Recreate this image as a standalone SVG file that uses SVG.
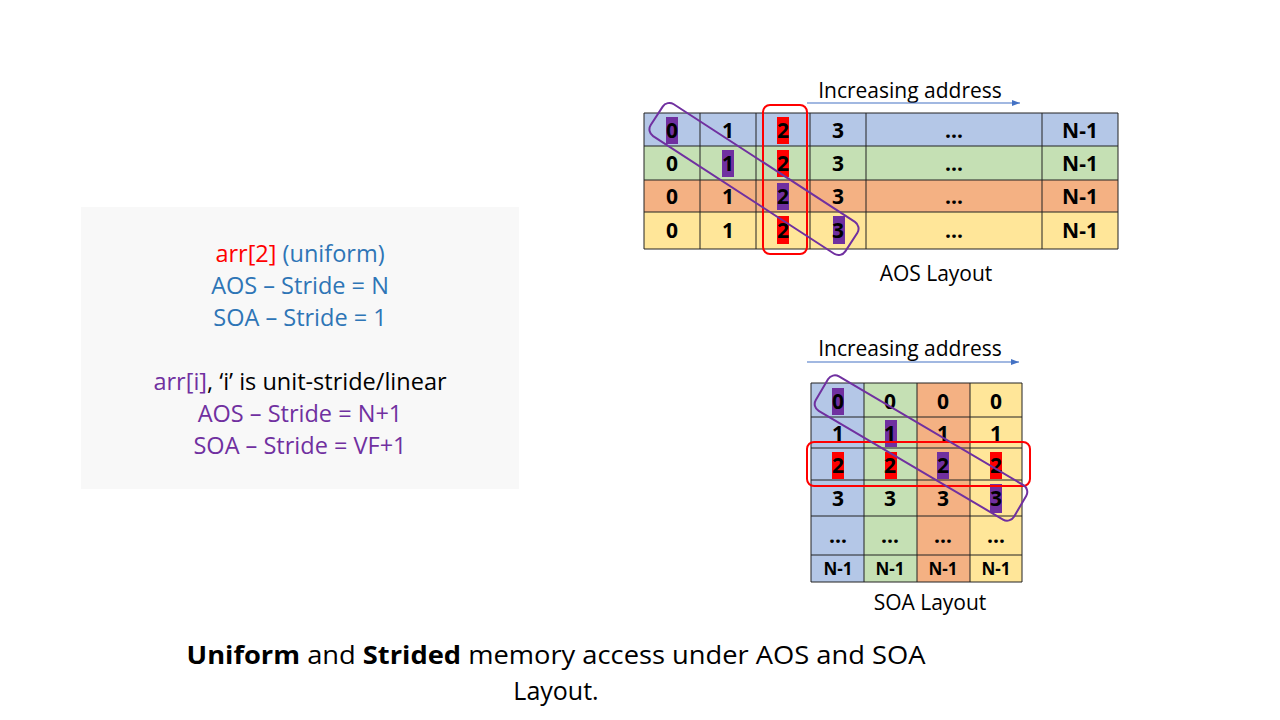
<svg xmlns="http://www.w3.org/2000/svg" width="1280" height="720" viewBox="0 0 1280 720">
<defs>
<marker id="arr" markerWidth="8" markerHeight="6" refX="8" refY="3" orient="auto" markerUnits="userSpaceOnUse">
<path d="M0,0 L8,3 L0,6 z" fill="#4472C4"/>
</marker>
</defs>
<style>
.b{fill:#B4C7E7}.g{fill:#C5E0B4}.o{fill:#F4B183}.y{fill:#FFE699}
.grid{stroke:#222;stroke-width:1;fill:none}
.num{font-family:"Open Sans","Noto Sans",sans-serif;font-weight:bold;font-size:21px;text-anchor:middle;fill:#000}
.sm{font-size:17px}
.hp{fill:#7030A0}.hr{fill:#FF0000}
.lbl{font-family:"Open Sans","Noto Sans",sans-serif;font-size:21px;text-anchor:middle;fill:#000}
.addr{stroke:#4472C4;stroke-width:1.2}
.ring{fill:none;stroke-width:2}
.pt{font-family:"Open Sans","Noto Sans",sans-serif;font-size:23.5px;text-anchor:middle}
.cap{font-family:"Open Sans","Noto Sans",sans-serif;font-size:25px;text-anchor:middle;fill:#000}
</style>
<rect width="1280" height="720" fill="#fff"/>

<g id="panel">
<rect x="81" y="207" width="438" height="282" fill="#F8F8F8"/>
<text class="pt" x="300" y="262"><tspan fill="#FF0000">arr[2]</tspan><tspan fill="#2E75B6"> (uniform)</tspan></text>
<text class="pt" x="300" y="294" fill="#2E75B6">AOS – Stride = N</text>
<text class="pt" x="300" y="326" fill="#2E75B6">SOA – Stride = 1</text>
<text class="pt" x="300" y="390"><tspan fill="#7030A0">arr[i]</tspan><tspan fill="#000">, ‘i’ is unit-stride/linear</tspan></text>
<text class="pt" x="300" y="422" fill="#7030A0">AOS – Stride = N+1</text>
<text class="pt" x="300" y="454" fill="#7030A0">SOA – Stride = VF+1</text>
</g>

<g id="aos">
<text class="lbl" x="910" y="98">Increasing address</text>
<rect class="b" x="644" y="113" width="474" height="33"/>
<rect class="g" x="644" y="146" width="474" height="34"/>
<rect class="o" x="644" y="180" width="474" height="32"/>
<rect class="y" x="644" y="212" width="474" height="37"/>
<path class="grid" d="M644,113H1118M644,146H1118M644,180H1118M644,212H1118M644,249H1118M644,113V249M700,113V249M756,113V249M810,113V249M866,113V249M1042,113V249M1118,113V249"/>
<rect class="hp" x="666" y="117" width="12" height="27"/>
<rect class="hp" x="722" y="150" width="12" height="27"/>
<rect class="hr" x="777" y="117" width="12" height="27"/>
<rect class="hr" x="777" y="150" width="12" height="27"/>
<rect class="hp" x="777" y="183" width="12" height="27"/>
<rect class="hr" x="777" y="216" width="12" height="28"/>
<rect class="hp" x="833" y="216" width="12" height="28"/>
<g class="num">
<text x="672" y="138">0</text><text x="728" y="138">1</text><text x="783" y="138">2</text><text x="838" y="138">3</text><text x="954" y="138">…</text><text x="1080" y="138">N-1</text>
<text x="672" y="171">0</text><text x="728" y="171">1</text><text x="783" y="171">2</text><text x="838" y="171">3</text><text x="954" y="171">…</text><text x="1080" y="171">N-1</text>
<text x="672" y="204">0</text><text x="728" y="204">1</text><text x="783" y="204">2</text><text x="838" y="204">3</text><text x="954" y="204">…</text><text x="1080" y="204">N-1</text>
<text x="672" y="238">0</text><text x="728" y="238">1</text><text x="783" y="238">2</text><text x="838" y="238">3</text><text x="954" y="238">…</text><text x="1080" y="238">N-1</text>
</g>
<text class="lbl" x="936" y="281">AOS Layout</text>
</g>

<g id="soa">
<text class="lbl" x="910" y="356">Increasing address</text>
<rect class="b" x="811" y="383" width="53" height="199"/>
<rect class="g" x="864" y="383" width="53" height="199"/>
<rect class="o" x="917" y="383" width="53" height="199"/>
<rect class="y" x="970" y="383" width="52" height="199"/>
<path class="grid" d="M811,383H1022M811,417H1022M811,448H1022M811,480H1022M811,516H1022M811,555H1022M811,582H1022M811,383V582M864,383V582M917,383V582M970,383V582M1022,383V582"/>
<rect class="hp" x="832" y="388" width="12" height="27"/>
<rect class="hp" x="885" y="420" width="12" height="27"/>
<rect class="hr" x="832" y="452" width="12" height="27"/>
<rect class="hr" x="885" y="452" width="12" height="27"/>
<rect class="hp" x="937" y="452" width="12" height="27"/>
<rect class="hr" x="990" y="452" width="12" height="27"/>
<rect class="hp" x="990" y="484" width="12" height="29"/>
<g class="num">
<text x="838" y="409">0</text><text x="890" y="409">0</text><text x="943" y="409">0</text><text x="996" y="409">0</text>
<text x="838" y="441">1</text><text x="890" y="441">1</text><text x="943" y="441">1</text><text x="996" y="441">1</text>
<text x="838" y="473">2</text><text x="890" y="473">2</text><text x="943" y="473">2</text><text x="996" y="473">2</text>
<text x="838" y="506">3</text><text x="890" y="506">3</text><text x="943" y="506">3</text><text x="996" y="506">3</text>
<text x="838" y="543">…</text><text x="890" y="543">…</text><text x="943" y="543">…</text><text x="996" y="543">…</text>
<text class="sm" x="838" y="575">N-1</text><text class="sm" x="890" y="575">N-1</text><text class="sm" x="943" y="575">N-1</text><text class="sm" x="996" y="575">N-1</text>
</g>
<text class="lbl" x="930" y="610">SOA Layout</text>
</g>

<g id="connectors">
<line class="addr" x1="807" y1="103" x2="1020" y2="103" marker-end="url(#arr)"/>
<line class="addr" x1="807" y1="362" x2="1019" y2="362" marker-end="url(#arr)"/>
<rect class="ring" stroke="#FF0000" x="763" y="105" width="44" height="149" rx="7"/>
<rect class="ring" stroke="#7030A0" x="-116" y="-19" width="232" height="38" rx="8" transform="translate(754,179) rotate(33)"/>
<rect class="ring" stroke="#FF0000" x="807" y="442" width="223" height="44" rx="7"/>
<rect class="ring" stroke="#7030A0" x="-115" y="-20" width="230" height="40" rx="8" transform="translate(921,448) rotate(30.5)"/>
</g>

<g id="caption">
<text class="cap" x="556" y="664" textLength="739" lengthAdjust="spacingAndGlyphs"><tspan font-weight="bold">Uniform</tspan> and <tspan font-weight="bold">Strided</tspan> memory access under AOS and SOA</text>
<text class="cap" x="556" y="700">Layout.</text>
</g>
</svg>
